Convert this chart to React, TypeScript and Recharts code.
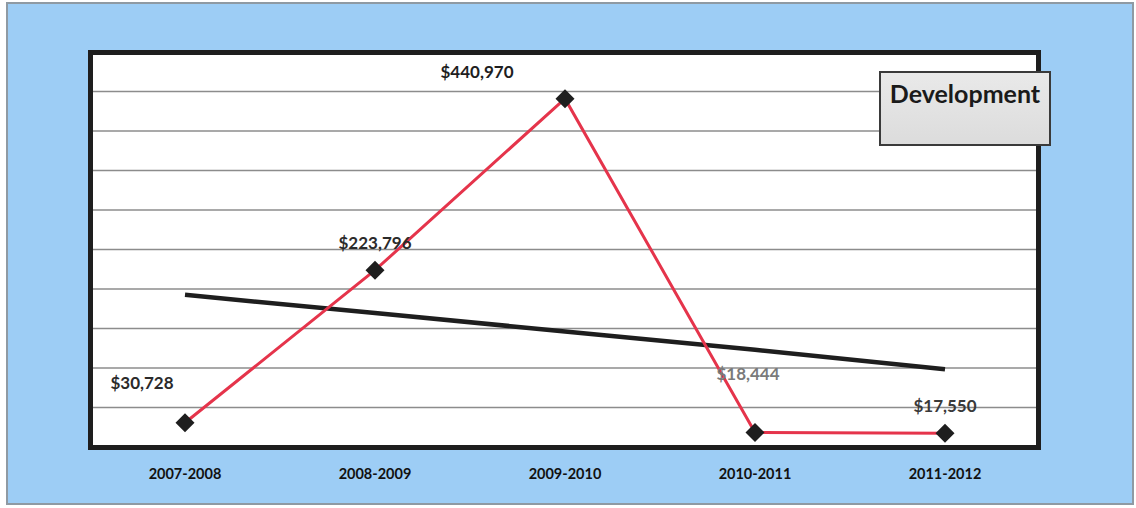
import { CartesianGrid, LabelList, Line, LineChart, XAxis, YAxis } from "recharts";

// fiscal years on the x axis
const SEASONS = ["2007-2008", "2008-2009", "2009-2010", "2010-2011", "2011-2012"];
// development spending per year
const DEVELOPMENT = [30728, 223796, 440970, 18444, 17550];
// linear trend line
const TREND = [192600, 169500, 146300, 123100, 98500];
const Y_TICKS = [0, 50000, 100000, 150000, 200000, 250000, 300000, 350000, 400000, 450000, 500000];

const data = SEASONS.map((season, i) => ({
  season,
  development: DEVELOPMENT[i],
  trend: TREND[i],
}));

const W = 1136;
const H = 508;
const PLOT = { left: 90, top: 52, right: 1038, bottom: 447 };
const X_AXIS_H = 30;

const BLUE = "#9dcdf5";
const RED = "#e5344b";
const INK = "#1e1e1e";
const GRID = "#8c8c8c";
const FONT = "Lato, 'Liberation Sans', sans-serif";

// where each value label sits relative to its point (label centre)
const LABEL_SHIFT: [number, number][] = [
  [-43, -40],
  [0, -27],
  [-88, -27],
  [-7, -58],
  [0, -27],
];
const LABEL_COLORS = ["#2a2a2a", "#2a2a2a", "#1e1e1e", "#7a7a7a", "#3a3a3a"];

const money = (v: number) => "$" + v.toLocaleString("en-US");

function Diamond({ cx, cy }: { cx?: number; cy?: number }) {
  if (cx == null || cy == null) return null;
  const r = 9.5;
  return <path d={`M${cx},${cy - r}L${cx + r},${cy}L${cx},${cy + r}L${cx - r},${cy}Z`} fill={INK} />;
}

function ValueLabel(props: any) {
  const { x, y, value, index } = props;
  const i = typeof index === "number" ? index : DEVELOPMENT.indexOf(value);
  const [dx, dy] = LABEL_SHIFT[i] ?? [0, -27];
  return (
    <text
      x={x + dx}
      y={y + dy + 6}
      textAnchor="middle"
      fontFamily={FONT}
      fontWeight={700}
      fontSize={17}
      fill={LABEL_COLORS[i] ?? INK}
    >
      {money(value)}
    </text>
  );
}

function SeasonTick(props: any) {
  const { x, y, payload } = props;
  return (
    <text x={x} y={y + 24} textAnchor="middle" fontFamily={FONT} fontWeight={700} fontSize={14.5} fill="#111">
      {payload.value}
    </text>
  );
}

const NoTick = () => <g />;

export default function App() {
  return (
    <div style={{ position: "absolute", left: 0, top: 0, width: W, height: H, background: "#fff", overflow: "hidden" }}>
      {/* outer blue panel */}
      <div
        style={{
          position: "absolute",
          left: 6,
          top: 2,
          width: W - 8,
          height: H - 5,
          boxSizing: "border-box",
          background: BLUE,
          border: "2px solid #8f9aa3",
        }}
      />
      {/* white plot background */}
      <div
        style={{
          position: "absolute",
          left: PLOT.left,
          top: PLOT.top,
          width: PLOT.right - PLOT.left,
          height: PLOT.bottom - PLOT.top,
          background: "#fff",
        }}
      />
      <div style={{ position: "absolute", left: 0, top: 0 }}>
        <LineChart
          width={W}
          height={H}
          data={data}
          margin={{ top: PLOT.top, left: PLOT.left, right: W - PLOT.right, bottom: H - PLOT.bottom - X_AXIS_H }}
        >
          <CartesianGrid stroke={GRID} strokeWidth={1.5} vertical={false} horizontal />
          <XAxis
            dataKey="season"
            height={X_AXIS_H}
            padding={{ left: 95, right: 93 }}
            axisLine={false}
            tickLine={false}
            tick={<SeasonTick />}
            interval={0}
          />
          <YAxis
            width={0}
            domain={[0, 500000]}
            ticks={Y_TICKS}
            interval={0}
            tick={<NoTick />}
            axisLine={false}
            tickLine={false}
          />
          <Line
            dataKey="trend"
            stroke={INK}
            strokeWidth={4.5}
            dot={false}
            activeDot={false}
            isAnimationActive={false}
          />
          <Line
            dataKey="development"
            stroke={RED}
            strokeWidth={3}
            dot={<Diamond />}
            activeDot={false}
            isAnimationActive={false}
          >
            <LabelList dataKey="development" content={<ValueLabel />} />
          </Line>
        </LineChart>
      </div>
      {/* thick plot frame on top */}
      <div
        style={{
          position: "absolute",
          left: PLOT.left - 2.5,
          top: PLOT.top - 2.5,
          width: PLOT.right - PLOT.left + 5,
          height: PLOT.bottom - PLOT.top + 5,
          boxSizing: "border-box",
          border: `5px solid ${INK}`,
          pointerEvents: "none",
        }}
      />
      {/* series name box */}
      <div
        style={{
          position: "absolute",
          left: 879,
          top: 71,
          width: 172,
          height: 75,
          boxSizing: "border-box",
          background: "linear-gradient(#e9e9e9, #dcdcdc)",
          border: "2px solid #3a3a3a",
          fontFamily: FONT,
          fontWeight: 700,
          fontSize: 25,
          color: "#1a1a1a",
          textAlign: "center",
          paddingTop: 5,
          lineHeight: "30px",
        }}
      >
        Development
      </div>
    </div>
  );
}
